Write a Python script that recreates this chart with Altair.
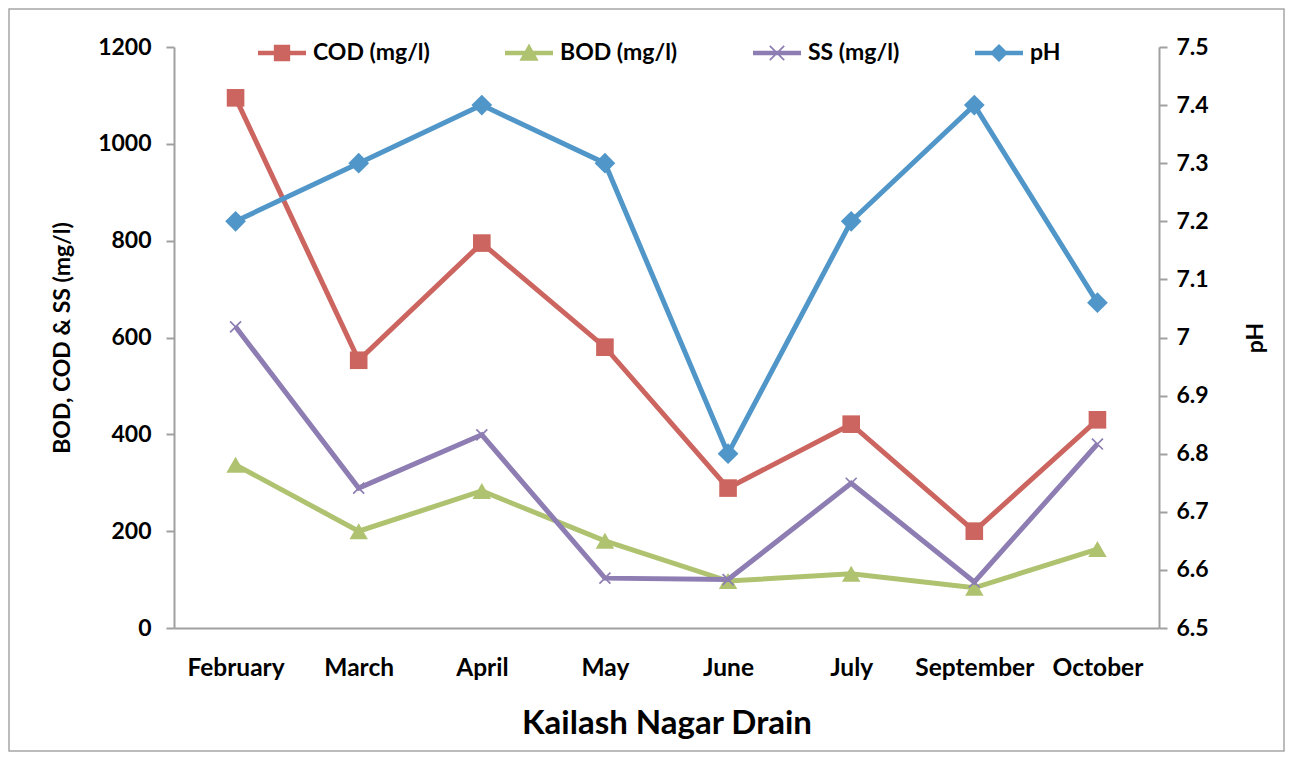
import altair as alt
import pandas as pd

months = ["February", "March", "April", "May", "June", "July", "September", "October"]
cod = [1095, 553, 795, 580, 289, 421, 200, 430]
bod = [337, 200, 283, 180, 97, 112, 83, 163]
ss = [622, 289, 399, 103, 100, 299, 95, 380]
ph = [7.2, 7.3, 7.4, 7.3, 6.8, 7.2, 7.4, 7.06]

series_names = ["COD (mg/l)", "BOD (mg/l)", "SS (mg/l)", "pH"]
series_colors = ["#CC655F", "#AFC270", "#8D7DB2", "#5096C8"]

left_ticks = [0, 200, 400, 600, 800, 1000, 1200]
right_ticks = [6.5, 6.6, 6.7, 6.8, 6.9, 7.0, 7.1, 7.2, 7.3, 7.4, 7.5]

df_left = pd.DataFrame({
    "month": months * 3,
    "series": [series_names[0]] * 8 + [series_names[1]] * 8 + [series_names[2]] * 8,
    "value": cod + bod + ss,
})
df_ph = pd.DataFrame({"month": months, "series": [series_names[3]] * 8, "value": ph})
df_legend = pd.DataFrame({"series": series_names})

W, H = 985, 581
FONT = "Lato"
AXIS_GRAY = "#A0A0A0"

x_enc = alt.X(
    "month:N", sort=months, title="Kailash Nagar Drain",
    scale=alt.Scale(type="point", padding=0.5),
    axis=alt.Axis(labelAngle=0, ticks=False, tickSize=0, labelPadding=28, labelFontSize=24.5,
                  titlePadding=28, titleFontSize=33, domainColor=AXIS_GRAY,
                  domainWidth=2),
)
y_left = alt.Y(
    "value:Q", title="BOD, COD & SS (mg/l)",
    scale=alt.Scale(domain=[0, 1200], nice=False, zero=True),
    axis=alt.Axis(orient="left", values=left_ticks, format="d", tickSize=8, labelPadding=15,
                  titlePadding=23, titleFontSize=23, domainColor=AXIS_GRAY,
                  tickColor=AXIS_GRAY, domainWidth=2, tickWidth=2),
)
y_right = alt.Y(
    "value:Q", title="pH",
    scale=alt.Scale(domain=[6.5, 7.5], nice=False, zero=False),
    axis=alt.Axis(orient="right", values=right_ticks, format="~g", tickSize=8,
                  labelPadding=9, titlePadding=59, titleFontSize=23, titleAngle=270,
                  domainColor=AXIS_GRAY, tickColor=AXIS_GRAY, domainWidth=2, tickWidth=2),
)

x_path = "M-1,-1L1,1M-1,1L1,-1"


def series_layers(df, name, color, y_enc, shape, size, filled=True, sw=None):
    base = alt.Chart(df).transform_filter(alt.datum.series == name)
    line = base.mark_line(color=color, strokeWidth=5).encode(x=x_enc, y=y_enc)
    if filled:
        pts = base.mark_point(shape=shape, size=size, filled=True, color=color, opacity=1)
    else:
        pts = base.mark_point(shape=shape, size=size, filled=False, color=color,
                              opacity=1, strokeWidth=sw)
    pts = pts.encode(x=x_enc, y=y_enc)
    return [line, pts]


left_layers = (
    series_layers(df_left, series_names[0], series_colors[0], y_left, "square", 310)
    + series_layers(df_left, series_names[1], series_colors[1], y_left, "triangle-up", 340)
    + series_layers(df_left, series_names[2], series_colors[2], y_left, x_path, 120,
                    filled=False, sw=1.7)
)
left = alt.layer(*left_layers)
right = alt.layer(*series_layers(df_ph, series_names[3], series_colors[3], y_right,
                                 "diamond", 430))

# legend symbols: a thick line with the series marker
line_part = "M-1,-0.09H1V0.09H-1Z"
legend_shapes = [
    line_part + "M-0.34,-0.34H0.34V0.34H-0.34Z",
    line_part + "M0,-0.4L0.4,0.32H-0.4Z",
    line_part + "M-0.275,-0.325L0.325,0.275L0.275,0.325L-0.325,-0.275Z"
    "M-0.325,0.275L0.275,-0.325L0.325,-0.275L-0.275,0.325Z",
    line_part + "M0,-0.38L0.38,0L0,0.38L-0.38,0Z",
]
leg = alt.Legend(title=None, orient="none", legendX=84, legendY=-18, direction="horizontal",
                 columns=4, gridAlign="each", columnPadding=75, symbolSize=2304,
                 symbolStrokeWidth=0, labelOffset=7, labelFontSize=23, labelFont=FONT,
                 labelFontWeight="bold", labelColor="black", padding=0, offset=0,
                 symbolOpacity=1, labelLimit=400)
legend_layer = alt.Chart(df_legend).transform_filter("false").mark_point(
    filled=True, opacity=1).encode(
    shape=alt.Shape("series:N", scale=alt.Scale(domain=series_names, range=legend_shapes),
                    legend=leg),
    color=alt.Color("series:N", scale=alt.Scale(domain=series_names, range=series_colors),
                    legend=leg),
)

frame = alt.Chart(pd.DataFrame({"f": [0]})).mark_rect(
    fill="transparent", stroke="#A6A6A6", strokeWidth=1.5).encode(
    x=alt.value(-165), x2=alt.value(1110), y=alt.value(-38), y2=alt.value(704))

chart = alt.layer(frame, left, right, legend_layer).resolve_scale(
    y="independent", shape="independent", color="independent"
).properties(
    width=W, height=H,
    background="white",
    autosize=alt.AutoSizeParams(type="none"),
    padding={"left": 166, "top": 39, "right": 126, "bottom": 125},
).configure_view(stroke=None).configure_axis(
    grid=False, labelFont=FONT, labelFontWeight="bold", labelFontSize=23,
    labelColor="black", titleFont=FONT, titleFontWeight="bold", titleColor="black",
)

chart.save("out.html", embed_options={"renderer": "svg", "actions": False})
